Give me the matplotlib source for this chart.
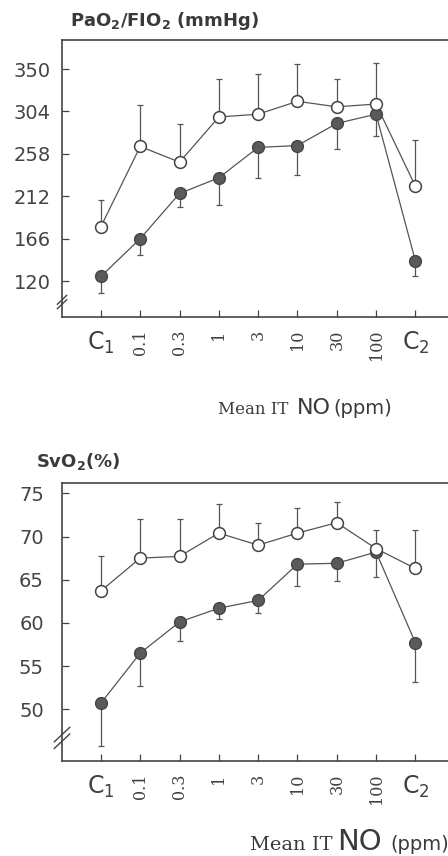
import numpy as np
import matplotlib
matplotlib.use("Agg")
import matplotlib.pyplot as plt

# ------------------------------------------------------------------
# DATA
# ------------------------------------------------------------------
doses = ["C$_\\mathrm{1}$", "0.1", "0.3", "1", "3", "10", "30", "100", "C$_\\mathrm{2}$"]

# PaO2/FIO2 (mmHg): open = mean with upper SD, filled = mean with lower SD
pao2_open = [179, 266, 249, 298, 301, 315, 309, 312, 223]
pao2_open_top = [208, 311, 290, 339, 345, 356, 339, 357, 273]
pao2_fill = [125, 166, 215, 232, 265, 267, 291, 301, 142]
pao2_fill_bot = [107, 148, 200, 203, 232, 235, 263, 277, 126]
pao2_ticks = [120, 166, 212, 258, 304, 350]

# SvO2 (%)
svo2_open = [63.7, 67.5, 67.7, 70.4, 69.0, 70.4, 71.6, 68.6, 66.3]
svo2_open_top = [67.7, 72.0, 72.0, 73.8, 71.6, 73.3, 74.0, 70.8, 70.8]
svo2_fill = [50.7, 56.5, 60.1, 61.7, 62.6, 66.8, 66.9, 68.2, 57.7]
svo2_fill_bot = [45.7, 52.7, 57.9, 60.5, 61.1, 64.3, 64.8, 65.3, 53.1]
svo2_ticks = [50, 55, 60, 65, 70, 75]

# ------------------------------------------------------------------
# STYLE
# ------------------------------------------------------------------
plt.rcParams["mathtext.fontset"] = "custom"
plt.rcParams["mathtext.rm"] = "DejaVu Sans"
plt.rcParams["mathtext.bf"] = "DejaVu Sans:bold"

ink = "#3a3a3a"
grey = "#555555"

fig = plt.figure(figsize=(4.48, 8.56), dpi=100)


def panel(ax, op, op_top, fi, fi_bot, ticks, ylim, ypad, brk):
    x = np.arange(len(doses))
    op = np.array(op)
    fi = np.array(fi)
    up = np.array(op_top) - op
    dn = fi - np.array(fi_bot)

    ax.errorbar(x, op, yerr=[np.zeros_like(up), up], fmt="none",
                ecolor=grey, elinewidth=0.9, capsize=2.2, capthick=0.9, zorder=1)
    ax.errorbar(x, fi, yerr=[dn, np.zeros_like(dn)], fmt="none",
                ecolor=grey, elinewidth=0.9, capsize=2.2, capthick=0.9, zorder=1)
    ax.plot(x, fi, "-o", color=grey, lw=0.9, ms=8.5, mfc="#5a5a5a",
            mec="#444444", mew=1.0, zorder=3)
    ax.plot(x, op, "-o", color=grey, lw=0.9, ms=8.5, mfc="white",
            mec="#444444", mew=1.1, zorder=4)

    ax.set_xlim(-0.99, 8.83)
    ax.set_ylim(*ylim)
    ax.set_yticks(ticks)
    ax.set_yticklabels([str(t) for t in ticks], fontsize=14,
                       family="DejaVu Sans", color="#444444")
    ax.set_xticks(x)
    ax.set_xticklabels(doses)
    ax.tick_params(axis="y", direction="in", length=5, width=0.9,
                   colors="#444444", pad=ypad)
    ax.tick_params(axis="x", direction="in", length=5, width=0.9,
                   colors="#444444", pad=9)
    for i, lab in enumerate(ax.get_xticklabels()):
        if i in (0, 8):
            lab.set_fontsize(17)
            lab.set_family("DejaVu Sans")
        else:
            lab.set_rotation(90)
            lab.set_fontsize(11.5)
            lab.set_family("DejaVu Serif")
            lab.set_va("top")
        lab.set_color("#404040")

    for s in ("left", "bottom", "top"):
        ax.spines[s].set_color("#444444")
        ax.spines[s].set_linewidth(1.2)
    ax.spines["right"].set_visible(False)

    # axis break marks on the left spine
    yc, dx, dy, gap = brk
    for off in (-gap, gap):
        ax.plot([-dx, dx], [yc + off - dy, yc + off + dy], color="#444444",
                lw=1.0, transform=ax.transAxes, clip_on=False, zorder=5)


# top panel
ax1 = fig.add_axes([62 / 448, 1 - 317 / 856, 1 - 62 / 448, 277 / 856])
panel(ax1, pao2_open, pao2_open_top, pao2_fill, pao2_fill_bot,
      pao2_ticks, (81, 381.5), 8, (0.054, 0.012, 0.016, 0.008))

# bottom panel
ax2 = fig.add_axes([62 / 448, 1 - 761 / 856, 1 - 62 / 448, 278 / 856])
panel(ax2, svo2_open, svo2_open_top, svo2_fill, svo2_fill_bot,
      svo2_ticks, (44.0, 76.2), 13, (0.083, 0.02, 0.026, 0.012))

# titles
fig.text(70 / 448, 1 - 21 / 856, "PaO$_\\mathbf{2}$/FIO$_\\mathbf{2}$ (mmHg)",
         fontsize=13, fontweight="bold", family="DejaVu Sans",
         color=ink, va="center", ha="left")
fig.text(36 / 448, 1 - 462 / 856, "SvO$_\\mathbf{2}$(%)",
         fontsize=13, fontweight="bold", family="DejaVu Sans",
         color=ink, va="center", ha="left")

# x axis captions
fig.text(218 / 448, 1 - 414 / 856, "Mean IT", fontsize=12,
         family="DejaVu Serif", color=ink, va="baseline", ha="left")
fig.text(297 / 448, 1 - 414 / 856, "NO", fontsize=16,
         family="DejaVu Sans", color=ink, va="baseline", ha="left")
fig.text(333 / 448, 1 - 414 / 856, "(ppm)", fontsize=14,
         family="DejaVu Sans", color=ink, va="baseline", ha="left")

fig.text(250 / 448, 1 - 850 / 856, "Mean IT", fontsize=14,
         family="DejaVu Serif", color=ink, va="baseline", ha="left")
fig.text(337 / 448, 1 - 850 / 856, "NO", fontsize=21,
         family="DejaVu Sans", color=ink, va="baseline", ha="left")
fig.text(390 / 448, 1 - 850 / 856, "(ppm)", fontsize=14,
         family="DejaVu Sans", color=ink, va="baseline", ha="left")

plt.savefig("out.png", dpi=100)
